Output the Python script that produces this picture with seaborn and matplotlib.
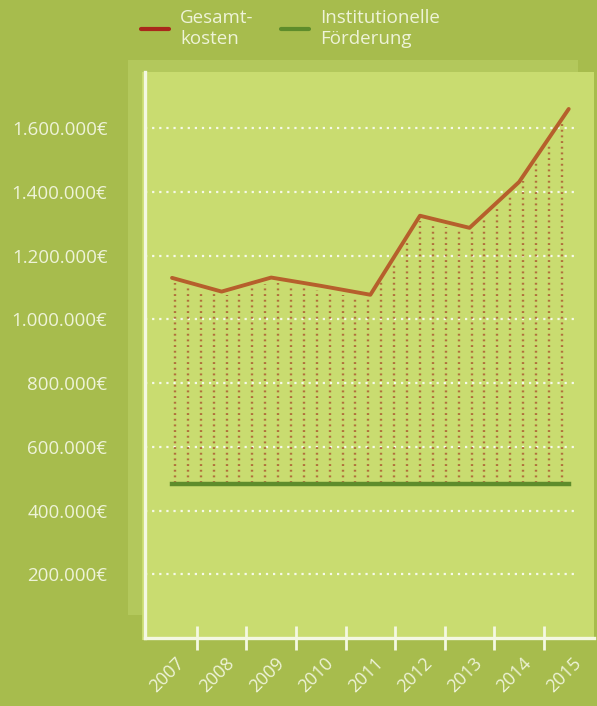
import numpy as np
import pandas as pd
import matplotlib
matplotlib.use("Agg")
import matplotlib.pyplot as plt
from matplotlib.lines import Line2D
from matplotlib.patches import Rectangle
import matplotlib.transforms as mtransforms
import seaborn as sns

# --- data -------------------------------------------------------------
years = ["2007", "2008", "2009", "2010", "2011", "2012", "2013", "2014", "2015"]
gesamtkosten = [1130000, 1087000, 1131000, 1105000, 1077000, 1325000, 1287000, 1431000, 1660000]
foerderung = [482000, 482000, 482000, 482000, 482000, 482000, 482000, 482000, 482000]
y_ticks = [200000, 400000, 600000, 800000, 1000000, 1200000, 1400000, 1600000]
y_tick_labels = ["200.000€", "400.000€", "600.000€", "800.000€",
                 "1.000.000€", "1.200.000€", "1.400.000€", "1.600.000€"]

# --- style ------------------------------------------------------------
sns.set_theme(style="white")
plt.rcParams["font.family"] = ["Open Sans", "DejaVu Sans"]

OUTER = "#a7bc4d"
PANEL = "#c9dc70"
TEXT = "#eef3d8"
AXIS = "#f4f8e2"
COST = "#b65f2c"
COST_LEGEND = "#a9281b"
FUND = "#5e8c2b"
DOTS = "#b0703c"

fig = plt.figure(figsize=(5.97, 7.06), dpi=100, facecolor=OUTER)

# background bands behind the plot panel
fig.patches.append(Rectangle((128 / 597, 1 - 615 / 706), (578 - 128) / 597, (615 - 60) / 706,
                             transform=fig.transFigure, facecolor="#b3c85c",
                             edgecolor="none", zorder=-2))
fig.patches.append(Rectangle((142 / 597, 1 - 640 / 706), (594 - 142) / 597, (640 - 72) / 706,
                             transform=fig.transFigure, facecolor=PANEL, edgecolor="none",
                             zorder=-1))

ax = fig.add_axes([145 / 597, 1 - 638 / 706, (594 - 145) / 597, (638 - 72) / 706])
ax.set_facecolor("none")
ax.set_zorder(2)

df = pd.DataFrame({"idx": np.arange(len(years)), "Jahr": years,
                   "Gesamtkosten": gesamtkosten, "Förderung": foerderung})

ax.set_xlim(-0.545, 8.51)
ax.set_ylim(0, 1776000)

# white dotted grid lines
for v in y_ticks:
    ax.axhline(v, xmin=0.0, xmax=0.955, color="white", lw=1.6, alpha=0.85,
               linestyle=(0, (1, 2.2)), zorder=1)

# vertical dotted fill between funding level and total costs
xs = np.linspace(0.06, 7.86, 31)
tops = np.interp(xs, df["idx"], df["Gesamtkosten"]) - 15000
bottoms = np.interp(xs, df["idx"], df["Förderung"]) + 5000
ax.vlines(xs, bottoms, tops, colors=DOTS, lw=1.7, linestyles=(0, (0.8, 1.6)), zorder=2)

sns.lineplot(data=df, x="idx", y="Förderung", color=FUND, lw=3.2, ax=ax, zorder=3,
             solid_capstyle="projecting")
sns.lineplot(data=df, x="idx", y="Gesamtkosten", color=COST, lw=2.8, ax=ax, zorder=4)

# axes
for s in ["top", "right"]:
    ax.spines[s].set_visible(False)
for s in ["left", "bottom"]:
    ax.spines[s].set_color(AXIS)
    ax.spines[s].set_linewidth(2.4)
    ax.spines[s].set_zorder(5)

ax.set_xlabel("")
ax.set_ylabel("")
ax.set_yticks(y_ticks)
ax.set_yticklabels(y_tick_labels)
ax.tick_params(axis="y", length=0, pad=27, labelsize=13.5, labelcolor=TEXT)

ax.set_xticks(np.arange(len(years)))
ax.set_xticklabels(years)
ax.set_xticks(np.arange(len(years) - 1) + 0.5, minor=True)
ax.tick_params(axis="x", which="major", bottom=False, length=0, pad=16,
               labelsize=13, labelcolor=TEXT)
ax.tick_params(axis="x", which="minor", bottom=True, direction="inout", length=17,
               width=2, color=AXIS)
offset = mtransforms.ScaledTranslation(10 / 100, 0, fig.dpi_scale_trans)
for lab in ax.get_xticklabels():
    lab.set_rotation(45)
    lab.set_rotation_mode("anchor")
    lab.set_ha("right")
    lab.set_va("center")
    lab.set_transform(lab.get_transform() + offset)

# legend
handles = [Line2D([], [], color=COST_LEGEND, lw=3),
           Line2D([], [], color=FUND, lw=3)]
leg = fig.legend(handles, ["Gesamt-\nkosten", "Institutionelle\nFörderung"],
                 loc="upper left", bbox_to_anchor=(124 / 597, 1 + 8 / 706), ncol=2,
                 frameon=False, fontsize=13.5, handlelength=1.5, handletextpad=0.6,
                 columnspacing=1.45, labelspacing=0.2)
for t in leg.get_texts():
    t.set_color(TEXT)
    t.set_linespacing(1.2)

fig.savefig("out.png", dpi=100, facecolor=OUTER)
